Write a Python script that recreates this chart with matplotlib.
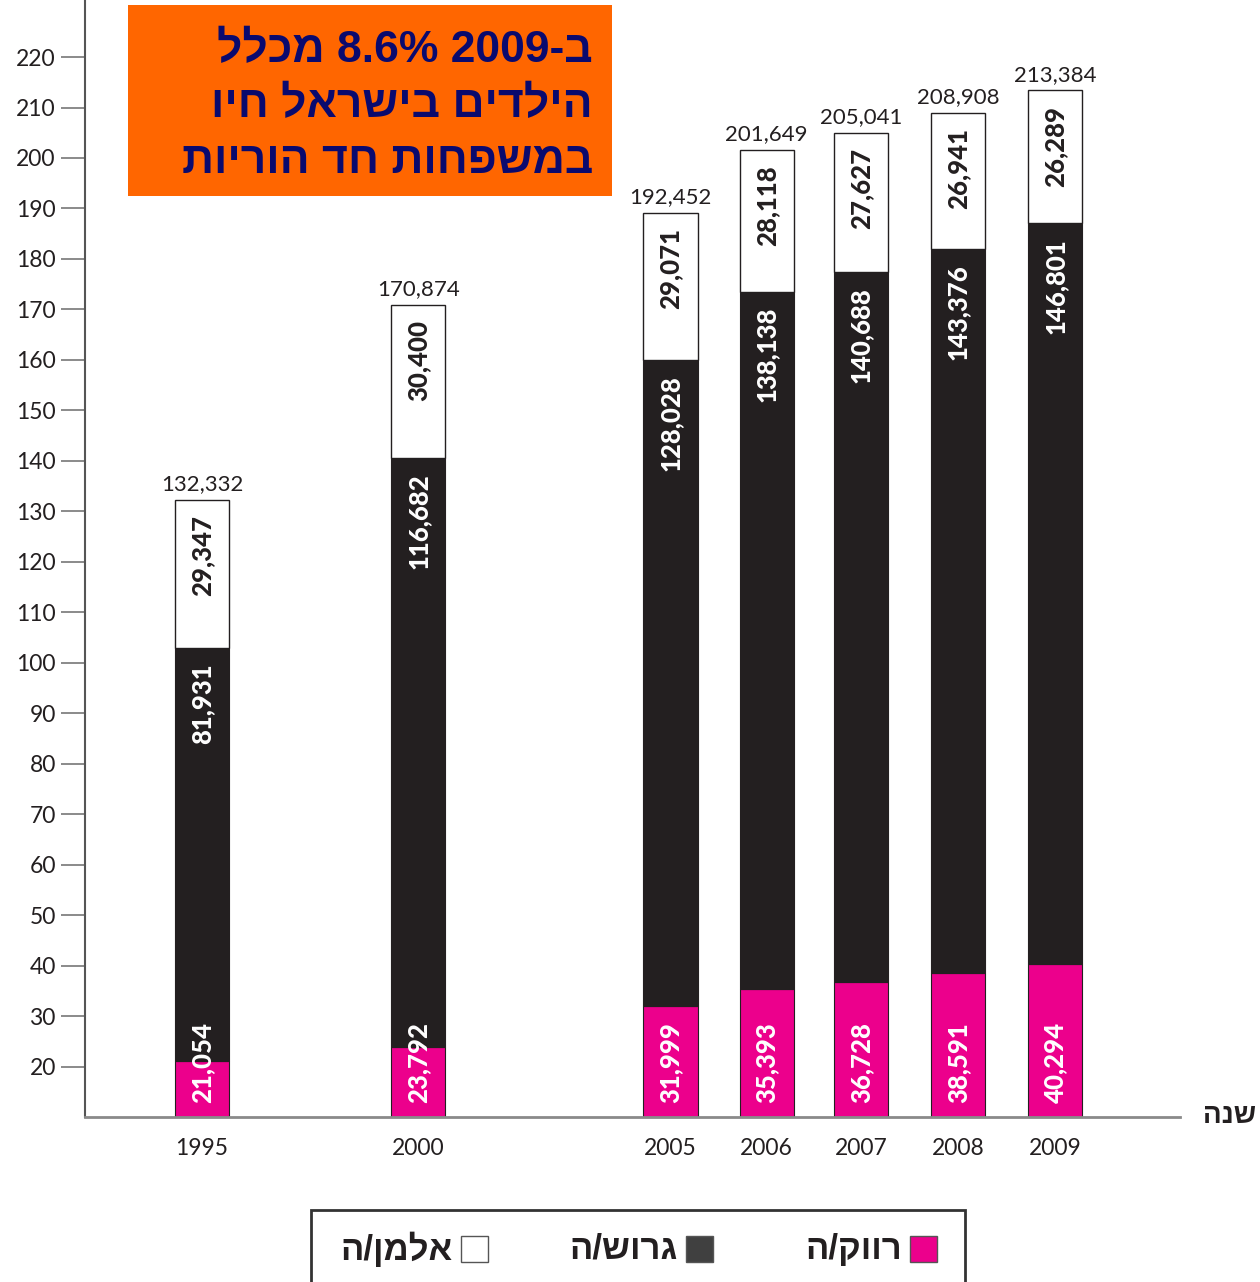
import re
import matplotlib
matplotlib.use("Agg")
import matplotlib.pyplot as plt
from matplotlib.patches import Rectangle

# ---------------- data ----------------
years = ["1995", "2000", "2005", "2006", "2007", "2008", "2009"]
x_pos = [0.0, 2.27, 4.92, 5.93, 6.92, 7.94, 8.96]
single = [21054, 23792, 31999, 35393, 36728, 38591, 40294]        # רווק/ה
divorced = [81931, 116682, 128028, 138138, 140688, 143376, 146801]  # גרוש/ה
widowed = [29347, 30400, 29071, 28118, 27627, 26941, 26289]       # אלמן/ה
totals = [132332, 170874, 192452, 201649, 205041, 208908, 213384]
y_ticks = [20, 30, 40, 50, 60, 70, 80, 90, 100, 110, 120, 130, 140, 150,
           160, 170, 180, 190, 200, 210, 220]
legend_labels = ["רווק/ה", "גרוש/ה", "אלמן/ה"]
title_lines = ["ב-2009 8.6% מכלל", "הילדים בישראל חיו", "במשפחות חד הוריות"]
x_axis_label = "שנה"

PINK = "#EC008C"
BLACK = "#231F20"
WHITE = "#FFFFFF"
ORANGE = "#FF6600"
NAVY = "#0A0A6E"

NUMFONT = ["Lato", "DejaVu Sans"]
HEBFONT = ["Liberation Sans", "DejaVu Sans"]


def vis(s):
    """Logical Hebrew string -> visual (left-to-right) order."""
    r = s[::-1]
    return re.sub(r"[0-9.,%]+", lambda m: m.group(0)[::-1], r)


W, H = 1260, 1282
fig = plt.figure(figsize=(W / 100, H / 100), dpi=100)


def fx(px):
    return px / W


def fy(py):
    return 1 - py / H


ax = fig.add_axes([fx(85), fy(1117), fx(1180) - fx(85), fy(0) - fy(1117)])

k = [v / 1000 for v in single]
d = [v / 1000 for v in divorced]
w = [v / 1000 for v in widowed]
bot2 = [a + b for a, b in zip(k, d)]
bw = 0.57
ax.bar(x_pos, k, width=bw, color=PINK, edgecolor=BLACK, linewidth=0.8, zorder=2)
ax.bar(x_pos, d, width=bw, bottom=k, color=BLACK, edgecolor=BLACK, linewidth=0.8, zorder=2)
ax.bar(x_pos, w, width=bw, bottom=bot2, color=WHITE, edgecolor=BLACK, linewidth=1.0, zorder=2)

ymin, ymax = 10, 231.3
ax.set_ylim(ymin, ymax)
ax.set_xlim(-1.229, 10.27)

LBL = dict(rotation=90, ha="center", fontsize=18.5, fontweight="black", family=NUMFONT, zorder=3)
for i, x in enumerate(x_pos):
    ax.annotate(f"{single[i]:,}", xy=(x, ymin), xytext=(0, 10), textcoords="offset points",
                va="bottom", color="white", **LBL)
    ax.annotate(f"{divorced[i]:,}", xy=(x, bot2[i]), xytext=(0, -11), textcoords="offset points",
                va="top", color="white", **LBL)
    ax.annotate(f"{widowed[i]:,}", xy=(x, bot2[i] + w[i]), xytext=(0, -11), textcoords="offset points",
                va="top", color=BLACK, **LBL)
    ax.annotate(f"{totals[i]:,}", xy=(x, bot2[i] + w[i]), xytext=(0, 4), textcoords="offset points",
                ha="center", va="bottom", color=BLACK, fontsize=16, family=NUMFONT, zorder=3)

ax.set_yticks(y_ticks)
ax.set_yticklabels([str(t) for t in y_ticks], family=NUMFONT, fontsize=16.5, color=BLACK)
ax.tick_params(axis="y", direction="out", length=17, width=1.2, color="#777777", pad=4)
ax.set_xticks(x_pos)
ax.set_xticklabels(years, family=NUMFONT, fontsize=16.5, color=BLACK)
ax.tick_params(axis="x", length=0, pad=15)

for s in ["top", "right"]:
    ax.spines[s].set_visible(False)
ax.spines["left"].set_color("#555555")
ax.spines["left"].set_linewidth(1.5)
ax.spines["bottom"].set_color("#8A8A8A")
ax.spines["bottom"].set_linewidth(2)

fig.text(fx(1256), fy(1116), vis(x_axis_label), ha="right", va="center",
         fontsize=20, fontweight="bold", family=HEBFONT, color=BLACK)

# title box
fig.add_artist(Rectangle((fx(128), fy(196)), fx(612) - fx(128), fy(5) - fy(196),
                         transform=fig.transFigure, facecolor=ORANGE, edgecolor="none", zorder=5))
fig.text(fx(593), fy(106), "\n".join(vis(t) for t in title_lines), ha="right", va="center",
         multialignment="right", fontsize=32, fontweight="bold", family=HEBFONT,
         color=NAVY, linespacing=1.45, zorder=6)

# legend box
fig.add_artist(Rectangle((fx(311), fy(1290)), fx(965) - fx(311), fy(1210) - fy(1290),
                         transform=fig.transFigure, facecolor="white", edgecolor="#333333",
                         linewidth=2, zorder=5))
leg_sq = [(910, PINK), (686, "#404040"), (461, WHITE)]
for (sx, col), lab in zip(leg_sq, legend_labels):
    fig.add_artist(Rectangle((fx(sx), fy(1262)), fx(sx + 27) - fx(sx), fy(1236) - fy(1262),
                             transform=fig.transFigure, facecolor=col, edgecolor="#555555",
                             linewidth=1, zorder=6))
    fig.text(fx(sx - 8), fy(1249), vis(lab), ha="right", va="center", fontsize=25,
             fontweight="bold", family=HEBFONT, color=BLACK, zorder=6)

fig.savefig("out.png", dpi=100)
